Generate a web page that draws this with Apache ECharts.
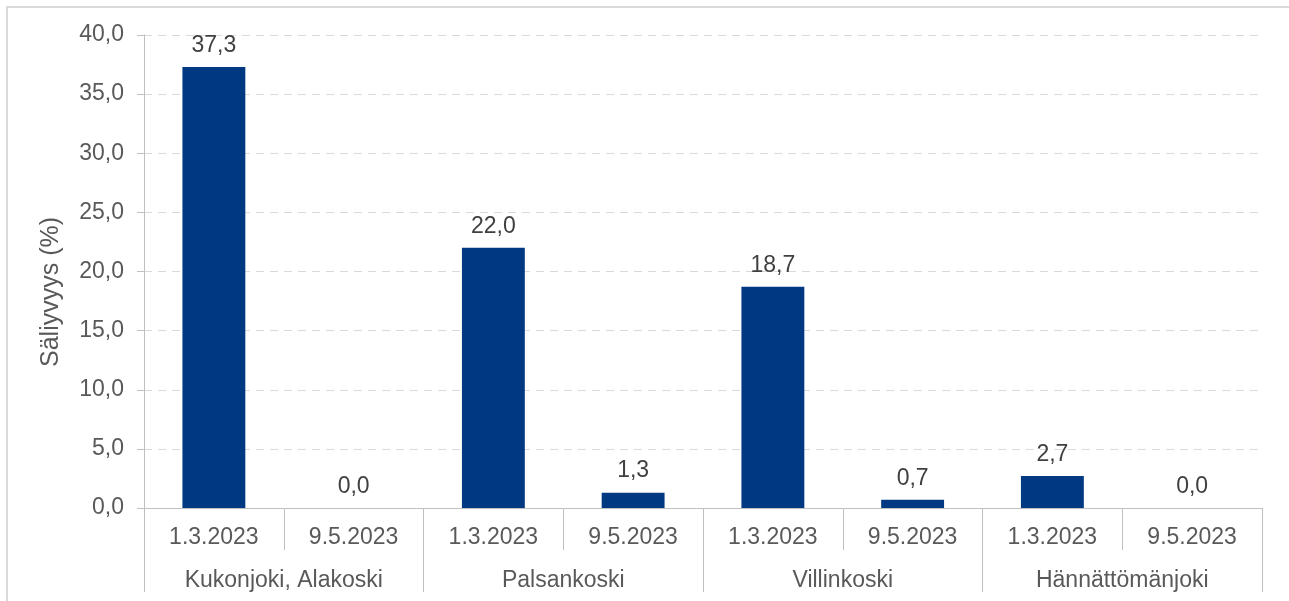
<!DOCTYPE html>
<html>
<head>
<meta charset="utf-8">
<script src="https://cdn.jsdelivr.net/npm/echarts@6/dist/echarts.min.js"></script>
<style>
  html, body { margin: 0; padding: 0; background: #ffffff; }
  #chart { width: 1289px; height: 601px; }
</style>
</head>
<body>
<div id="chart"></div>
<script>
// Sampling sites and dates (two-level category axis)
const sites = ['Kukonjoki, Alakoski', 'Palsankoski', 'Villinkoski', 'Hännättömänjoki'];
const dates = ['1.3.2023', '9.5.2023', '1.3.2023', '9.5.2023', '1.3.2023', '9.5.2023', '1.3.2023', '9.5.2023'];
// Survival rate (%) per site and date
const survival = [37.3, 0.0, 22.0, 1.3, 18.7, 0.7, 2.7, 0.0];
// Value axis ticks
const yTicks = { min: 0, max: 40, interval: 5 };
const yTitle = 'Säliyvyys (%)';

const FONT = '"Liberation Sans", Arial, sans-serif';
const FS = 23;
const fmt = v => Number(v).toFixed(1).replace('.', ',');

const chart = echarts.init(document.getElementById('chart'), null, { renderer: 'canvas' });

chart.setOption({
  animation: false,
  backgroundColor: '#ffffff',
  textStyle: { fontFamily: FONT },
  grid: { left: 144, right: 27, top: 35, bottom: 93, containLabel: false },
  graphic: [
    {
      type: 'rect',
      shape: { x: 7, y: 7, width: 1400, height: 700 },
      style: { fill: 'none', stroke: '#d9d9d9', lineWidth: 2 },
      silent: true, z: -1
    },
    {
      type: 'text',
      x: 51, y: 292,
      rotation: Math.PI / 2,
      style: {
        text: yTitle,
        fontFamily: FONT,
        fontSize: 25,
        fill: '#595959',
        textAlign: 'center',
        textVerticalAlign: 'middle'
      }
    }
  ],
  xAxis: [
    {
      type: 'category',
      data: dates,
      position: 'bottom',
      axisLine: { show: true, lineStyle: { color: '#bfbfbf', width: 1 } },
      axisTick: { show: true, interval: 0, length: 42, lineStyle: { color: '#bfbfbf', width: 1 } },
      axisLabel: { interval: 0, margin: 18, color: '#595959', fontSize: FS, fontFamily: FONT },
      splitLine: { show: false }
    },
    {
      type: 'category',
      data: sites,
      position: 'bottom',
      axisLine: { show: false },
      axisTick: { show: true, interval: 0, length: 84, lineStyle: { color: '#bfbfbf', width: 1 } },
      axisLabel: { interval: 0, margin: 61, color: '#595959', fontSize: FS, fontFamily: FONT },
      splitLine: { show: false }
    }
  ],
  yAxis: {
    type: 'value',
    min: yTicks.min,
    max: yTicks.max,
    interval: yTicks.interval,
    axisLine: { show: true, lineStyle: { color: '#bfbfbf', width: 1 } },
    axisTick: { show: true, length: 7, lineStyle: { color: '#bfbfbf', width: 1 } },
    axisLabel: { margin: 20, color: '#595959', fontSize: FS, fontFamily: FONT, formatter: fmt, padding: [3, 0, 0, 0] },
    splitLine: { show: true, lineStyle: { color: '#d9d9d9', width: 1, type: [8, 6] } }
  },
  series: [
    {
      type: 'bar',
      xAxisIndex: 0,
      data: survival,
      barWidth: '45%',
      itemStyle: { color: '#003882' },
      label: {
        show: true,
        position: 'top',
        distance: 10,
        color: '#404040',
        fontSize: FS,
        fontFamily: FONT,
        formatter: p => fmt(p.value)
      }
    }
  ]
});
</script>
</body>
</html>
